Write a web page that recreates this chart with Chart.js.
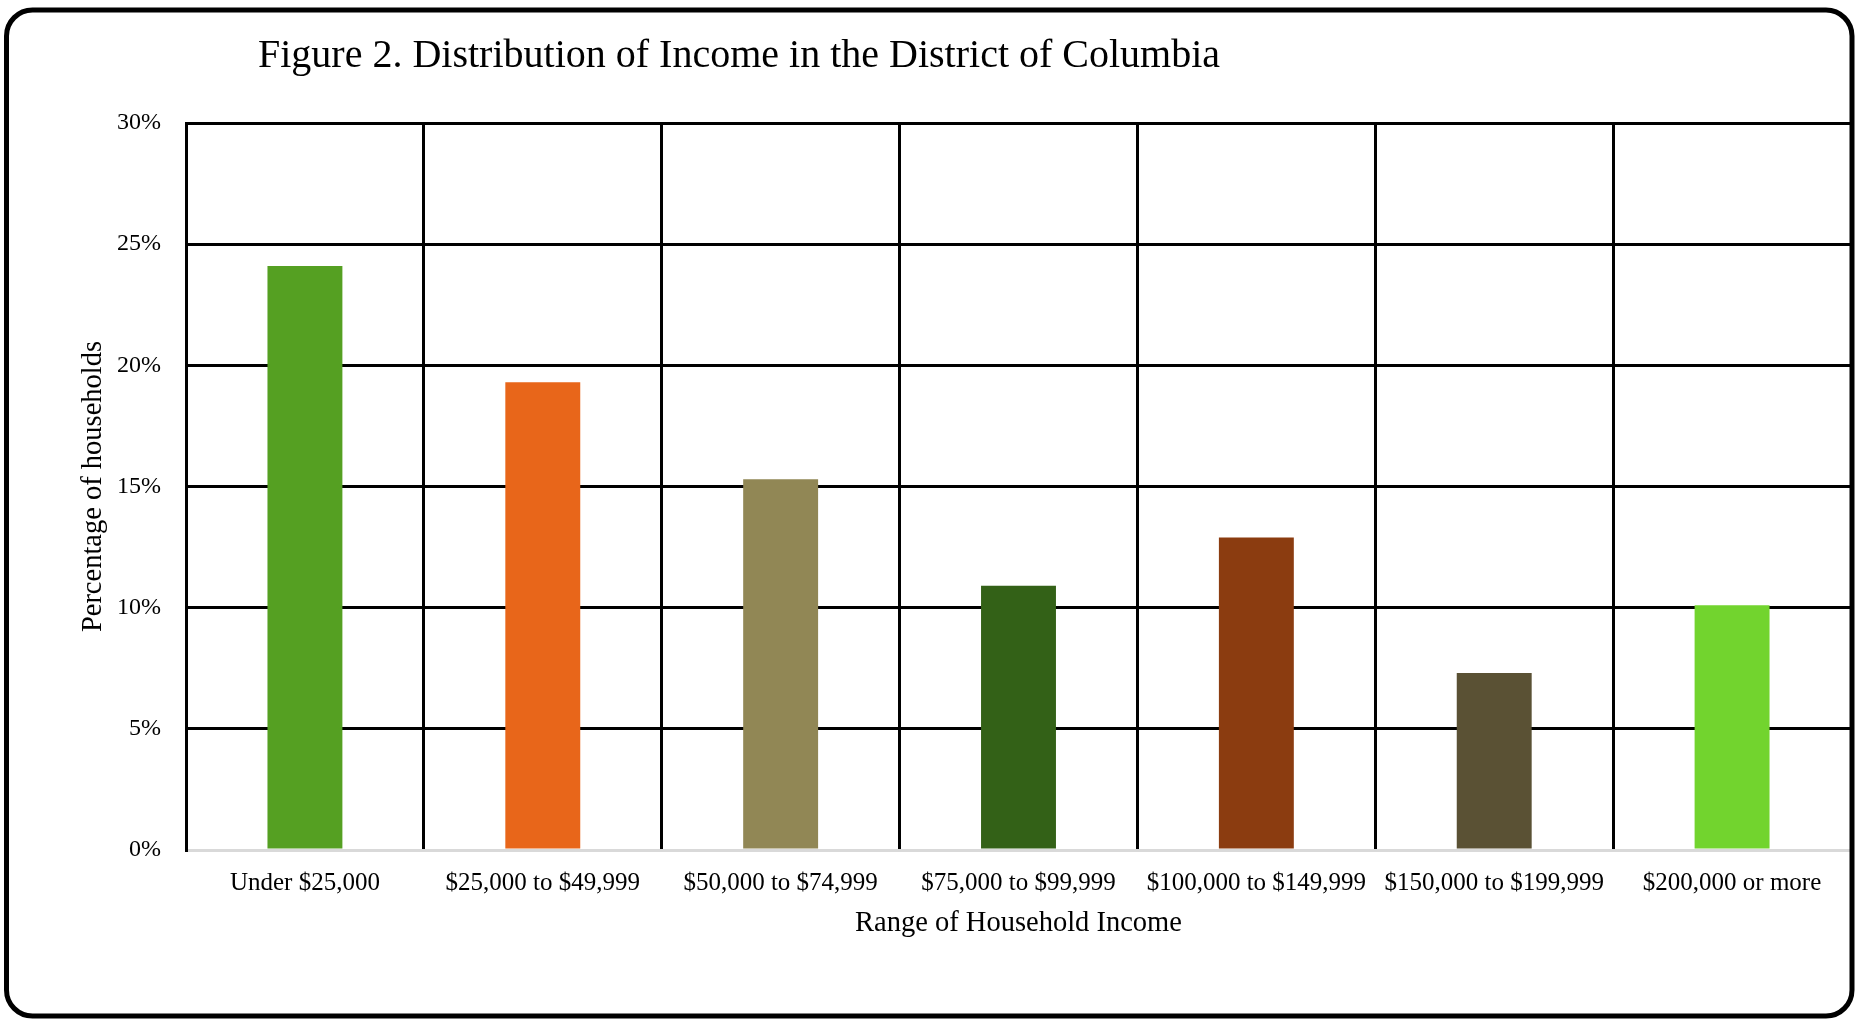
<!DOCTYPE html>
<html>
<head>
<meta charset="utf-8">
<title>Distribution of Income in the District of Columbia</title>
<script src="https://cdn.jsdelivr.net/npm/chart.js@4.4.1/dist/chart.umd.min.js"></script>
<style>
  html, body { margin: 0; padding: 0; background: #ffffff; }
  canvas { display: block; }
</style>
</head>
<body>
<canvas id="incomeChart" width="1860" height="1021"></canvas>
<script>
// Household income brackets and the share of households in each (percent)
const categories = [
  'Under $25,000',
  '$25,000 to $49,999',
  '$50,000 to $74,999',
  '$75,000 to $99,999',
  '$100,000 to $149,999',
  '$150,000 to $199,999',
  '$200,000 or more'
];
const shares = [24.1, 19.3, 15.3, 10.9, 12.9, 7.3, 10.1];
const barColors = ['#55A022', '#E8661A', '#918755', '#336117', '#8B3C10', '#5A5134', '#72D42E'];
const yTickValues = [0, 5, 10, 15, 20, 25, 30];

const chartTitle = 'Figure 2. Distribution of Income in the District of Columbia';
const xAxisTitle = 'Range of Household Income';
const yAxisTitle = 'Percentage of households';

const FONT = '"Liberation Serif", "Times New Roman", serif';

// Title drawn left-offset above the plot
const titlePlugin = {
  id: 'figureTitle',
  afterDraw(chart) {
    const ctx = chart.ctx;
    ctx.save();
    ctx.fillStyle = '#000000';
    ctx.font = '40px ' + FONT;
    ctx.textAlign = 'left';
    ctx.textBaseline = 'alphabetic';
    ctx.fillText(chartTitle, 258, 67);
    ctx.restore();
  }
};

// Rounded frame around the whole figure
const framePlugin = {
  id: 'roundedFrame',
  afterDraw(chart) {
    const ctx = chart.ctx;
    const x0 = 6.5, y0 = 10, x1 = 1852, y1 = 1016, r = 26;
    ctx.save();
    ctx.strokeStyle = '#000000';
    ctx.lineWidth = 5;
    ctx.beginPath();
    ctx.moveTo(x0 + r, y0);
    ctx.lineTo(x1 - r, y0);
    ctx.arcTo(x1, y0, x1, y0 + r, r);
    ctx.lineTo(x1, y1 - r);
    ctx.arcTo(x1, y1, x1 - r, y1, r);
    ctx.lineTo(x0 + r, y1);
    ctx.arcTo(x0, y1, x0, y1 - r, r);
    ctx.lineTo(x0, y0 + r);
    ctx.arcTo(x0, y0, x0 + r, y0, r);
    ctx.closePath();
    ctx.stroke();
    ctx.restore();
  }
};

new Chart(document.getElementById('incomeChart'), {
  type: 'bar',
  data: {
    labels: categories,
    datasets: [{
      data: shares,
      backgroundColor: barColors,
      borderWidth: 0,
      categoryPercentage: 1.0,
      barPercentage: 0.315
    }]
  },
  options: {
    responsive: false,
    animation: false,
    devicePixelRatio: 1,
    layout: { padding: { top: 123, right: 9, bottom: 0, left: 0 } },
    plugins: {
      legend: { display: false },
      tooltip: { enabled: false },
      title: { display: false }
    },
    scales: {
      x: {
        afterFit(scale) { scale.height = 171; },
        grid: {
          offset: true,
          color: '#000000',
          lineWidth: 3,
          drawTicks: false
        },
        border: { display: true, color: '#D9D9D9', width: 3 },
        ticks: {
          color: '#000000',
          font: { family: FONT, size: 25 },
          padding: 18,
          maxRotation: 0,
          autoSkip: false
        },
        title: {
          display: true,
          text: xAxisTitle,
          color: '#000000',
          font: { family: FONT, size: 28.5 },
          padding: { top: 0, bottom: 80 }
        }
      },
      y: {
        min: 0,
        max: 30,
        afterFit(scale) { scale.width = 186; },
        afterBuildTicks(scale) { scale.ticks = yTickValues.map(v => ({ value: v })); },
        grid: {
          color: (c) => (c.tick && c.tick.value === 0 ? '#D9D9D9' : '#000000'),
          lineWidth: 3,
          drawTicks: false
        },
        border: { display: true, color: '#000000', width: 3 },
        ticks: {
          color: '#000000',
          font: { family: FONT, size: 24 },
          padding: 25,
          callback: (v) => v + '%'
        },
        title: {
          display: true,
          text: yAxisTitle,
          color: '#000000',
          font: { family: FONT, size: 28.5 },
          padding: { top: 76, bottom: 0 }
        }
      }
    }
  },
  plugins: [titlePlugin, framePlugin]
});
</script>
</body>
</html>
